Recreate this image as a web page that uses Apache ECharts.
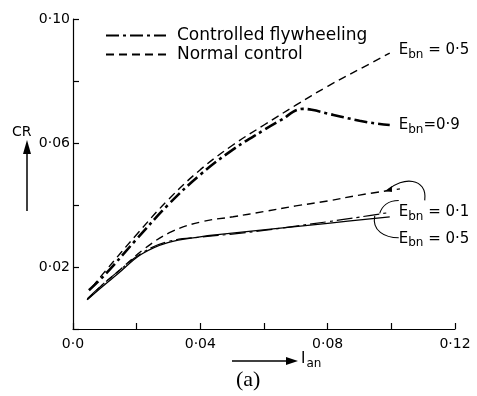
<!DOCTYPE html>
<html>
<head>
<meta charset="utf-8">
<script src="https://cdn.jsdelivr.net/npm/echarts@6/dist/echarts.min.js"></script>
<style>
  html, body { margin: 0; padding: 0; background: #fff; }
  #chart { width: 477px; height: 396px; }
</style>
</head>
<body>
<div id="chart"></div>
<script>
// values (Ian on x, CR on y)
const xNormalHigh = [0.006, 0.01, 0.02, 0.03, 0.04, 0.05, 0.06, 0.07, 0.08, 0.09, 0.0995];
const yNormalHigh = [0.0135, 0.0185, 0.0305, 0.0418, 0.0514, 0.0592, 0.0658, 0.0722, 0.0783, 0.0838, 0.089];

const xFlyHigh = [0.005, 0.01, 0.02, 0.03, 0.04, 0.05, 0.06, 0.065, 0.0723, 0.075, 0.08, 0.085, 0.09, 0.095, 0.0995];
const yFlyHigh = [0.0125, 0.0175, 0.029, 0.0402, 0.0498, 0.0577, 0.0642, 0.0672, 0.071, 0.0707, 0.0695, 0.0683, 0.0672, 0.0663, 0.0658];

const xNormalLow = [0.0045, 0.009, 0.0141, 0.0226, 0.031, 0.0404, 0.0503, 0.06, 0.07, 0.08, 0.09, 0.1027];
const yNormalLow = [0.0095, 0.014, 0.0185, 0.026, 0.0314, 0.0346, 0.0362, 0.0379, 0.0397, 0.0413, 0.0432, 0.0452];

const xFlyLowDot = [0.0045, 0.009, 0.0141, 0.0216, 0.0298, 0.0404, 0.05, 0.06, 0.07, 0.08, 0.09, 0.0995];
const yFlyLowDot = [0.0098, 0.0141, 0.0185, 0.0245, 0.0282, 0.0297, 0.0306, 0.0318, 0.0332, 0.0346, 0.0361, 0.0376];

const xFlyLowSolid = [0.0044, 0.009, 0.0141, 0.0216, 0.0298, 0.0404, 0.0462, 0.0628, 0.08, 0.0995];
const yFlyLowSolid = [0.0094, 0.0135, 0.0178, 0.0242, 0.0279, 0.0298, 0.0305, 0.0323, 0.0341, 0.0362];

const xTickLabels = [0, 0.04, 0.08, 0.12];
const yTickLabels = [0.02, 0.06, 0.10];

const font = 'DejaVu Sans';
const pairs = (xs, ys) => xs.map((x, i) => [x, ys[i]]);
const dotted = v => (v === 0 ? '0·0' : v.toFixed(2).replace('.', '·'));
const near = (v, list) => list.some(t => Math.abs(t - v) < 1e-6);
const last = a => a[a.length - 1];

const ebnRich = {
  e: { fontSize: 15, fontFamily: font, color: '#000' },
  s: { fontSize: 12, fontFamily: font, color: '#000', padding: [9, 0, 0, 0] },
  t: { fontSize: 15, fontFamily: font, color: '#000' }
};
const endLabel = (txt, offset) => ({
  show: true,
  distance: 9,
  offset: offset || [0, 0],
  formatter: '{e|E}{s|bn}{t|' + txt + '}',
  rich: ebnRich
});

const chart = echarts.init(document.getElementById('chart'));
const option = {
  animation: false,
  backgroundColor: '#fff',
  color: ['#000'],
  grid: { left: 73, right: 22, top: 19, bottom: 67 },
  legend: {
    left: 100,
    top: 22,
    orient: 'vertical',
    itemWidth: 60,
    itemHeight: 12,
    itemGap: 2,
    data: ['Controlled flywheeling', 'Normal control'],
    itemStyle: { color: 'rgba(0,0,0,0)', borderColor: 'rgba(0,0,0,0)', borderWidth: 0 },
    textStyle: { fontFamily: font, fontSize: 17, lineHeight: 14, color: '#000', padding: [0, 0, 0, 6] }
  },
  xAxis: {
    type: 'value',
    min: 0,
    max: 0.12,
    interval: 0.02,
    splitLine: { show: false },
    axisLine: { lineStyle: { color: '#000', width: 1.2 } },
    axisTick: { inside: true, length: 6, lineStyle: { color: '#000', width: 1.2 } },
    axisLabel: {
      margin: 8,
      fontFamily: font,
      fontSize: 14,
      color: '#000',
      formatter: v => (near(v, xTickLabels) ? dotted(v) : '')
    }
  },
  yAxis: {
    type: 'value',
    min: 0,
    max: 0.10,
    interval: 0.02,
    splitLine: { show: false },
    axisLine: { show: true, lineStyle: { color: '#000', width: 1.2 } },
    axisTick: { show: true, inside: true, length: 6, lineStyle: { color: '#000', width: 1.2 } },
    axisLabel: {
      margin: 3,
      fontFamily: font,
      fontSize: 14,
      color: '#000',
      formatter: v => (near(v, yTickLabels) ? dotted(v) : '')
    }
  },
  series: [
    {
      name: 'Controlled flywheeling',
      type: 'line',
      smooth: 0.4,
      symbol: 'none',
      data: pairs(xFlyHigh, yFlyHigh),
      lineStyle: { color: '#000', width: 2.6, type: [13, 4, 3, 4] },
      endLabel: endLabel('=0·9')
    },
    {
      name: 'Normal control',
      type: 'line',
      smooth: 0.4,
      symbol: 'none',
      data: pairs(xNormalHigh, yNormalHigh),
      lineStyle: { color: '#000', width: 1.4, type: [8, 5] },
      endLabel: endLabel(' = 0·5', [0, -3])
    },
    {
      name: 'Normal control',
      type: 'line',
      smooth: 0.4,
      symbol: 'none',
      data: pairs(xNormalLow, yNormalLow),
      lineStyle: { color: '#000', width: 1.4, type: [8, 5] }
    },
    {
      name: 'Controlled flywheeling',
      type: 'line',
      smooth: 0.4,
      symbol: 'none',
      data: pairs(xFlyLowDot, yFlyLowDot),
      lineStyle: { color: '#000', width: 1.2, type: [16, 4, 3, 4] },
      endLabel: endLabel(' = 0·1', [0, 0])
    },
    {
      name: 'Controlled flywheeling',
      type: 'line',
      smooth: 0.4,
      symbol: 'none',
      data: pairs(xFlyLowSolid, yFlyLowSolid),
      lineStyle: { color: '#000', width: 1.3 },
      endLabel: endLabel(' = 0·5', [0, 22])
    }
  ]
};
chart.setOption(option);

// leader curves for the lower labels, anchored to line ends
const dashEnd = chart.convertToPixel({ gridIndex: 0 }, [last(xNormalLow), last(yNormalLow)]);
const dotEnd = chart.convertToPixel({ gridIndex: 0 }, [last(xFlyLowDot), last(yFlyLowDot)]);
const solidEnd = chart.convertToPixel({ gridIndex: 0 }, [last(xFlyLowSolid), last(yFlyLowSolid)]);
const leader = { stroke: '#000', lineWidth: 1.1, fill: null };

chart.setOption({
  graphic: [
    // y-axis name with arrow
    { type: 'text', left: 12, top: 125, style: { text: 'CR', font: '14px ' + font, fill: '#000' } },
    { type: 'line', shape: { x1: 27, y1: 211, x2: 27, y2: 150 }, style: { stroke: '#000', lineWidth: 1.5 } },
    { type: 'polygon', shape: { points: [[23, 154], [27, 140], [31, 154]] }, style: { fill: '#000' } },
    // x-axis name with arrow
    { type: 'line', shape: { x1: 232, y1: 361, x2: 290, y2: 361 }, style: { stroke: '#000', lineWidth: 1.3 } },
    { type: 'polygon', shape: { points: [[286, 357], [298, 361], [286, 365]] }, style: { fill: '#000' } },
    {
      type: 'text', left: 301, top: 352,
      style: {
        text: '{i|I}{s|an}',
        rich: {
          i: { font: '15px ' + font, fill: '#000' },
          s: { font: '12px ' + font, fill: '#000', padding: [9, 0, 0, 1] }
        }
      }
    },
    { type: 'text', left: 236, top: 369, style: { text: '(a)', font: '22px "Liberation Serif"', fill: '#000' } },
    // Ebn = 0.1 arrow to dashed end
    {
      type: 'bezierCurve',
      shape: { x1: dotEnd[0] + 35, y1: dotEnd[1] - 12, cpx1: dotEnd[0] + 38, cpx2: dotEnd[0] + 12, cpy1: dashEnd[1] - 12, cpy2: dashEnd[1] - 12, x2: dashEnd[0] - 12, y2: dashEnd[1] + 1 },
      style: leader
    },
    { type: 'polygon', shape: { points: [[dashEnd[0] - 15, dashEnd[1] + 2], [dashEnd[0] - 8, dashEnd[1] - 3], [dashEnd[0] - 8, dashEnd[1] + 3]] }, style: { fill: '#000' } },
    // Ebn = 0.1 leader to the dash-dot line
    {
      type: 'bezierCurve',
      shape: { x1: dotEnd[0] + 9, y1: dotEnd[1] - 12, cpx1: dotEnd[0] - 2, cpy1: dotEnd[1] - 12, cpx2: dotEnd[0] - 8, cpy2: dotEnd[1] - 6, x2: dotEnd[0] - 10, y2: dotEnd[1] + 1 },
      style: leader
    },
    // Ebn = 0.5 leader to the solid line
    {
      type: 'bezierCurve',
      shape: { x1: solidEnd[0] - 15, y1: solidEnd[1] - 1, cpx1: solidEnd[0] - 18, cpy1: solidEnd[1] + 14, cpx2: solidEnd[0] - 5, cpy2: solidEnd[1] + 21, x2: solidEnd[0] + 9, y2: solidEnd[1] + 21 },
      style: leader
    }
  ]
});
</script>
</body>
</html>
